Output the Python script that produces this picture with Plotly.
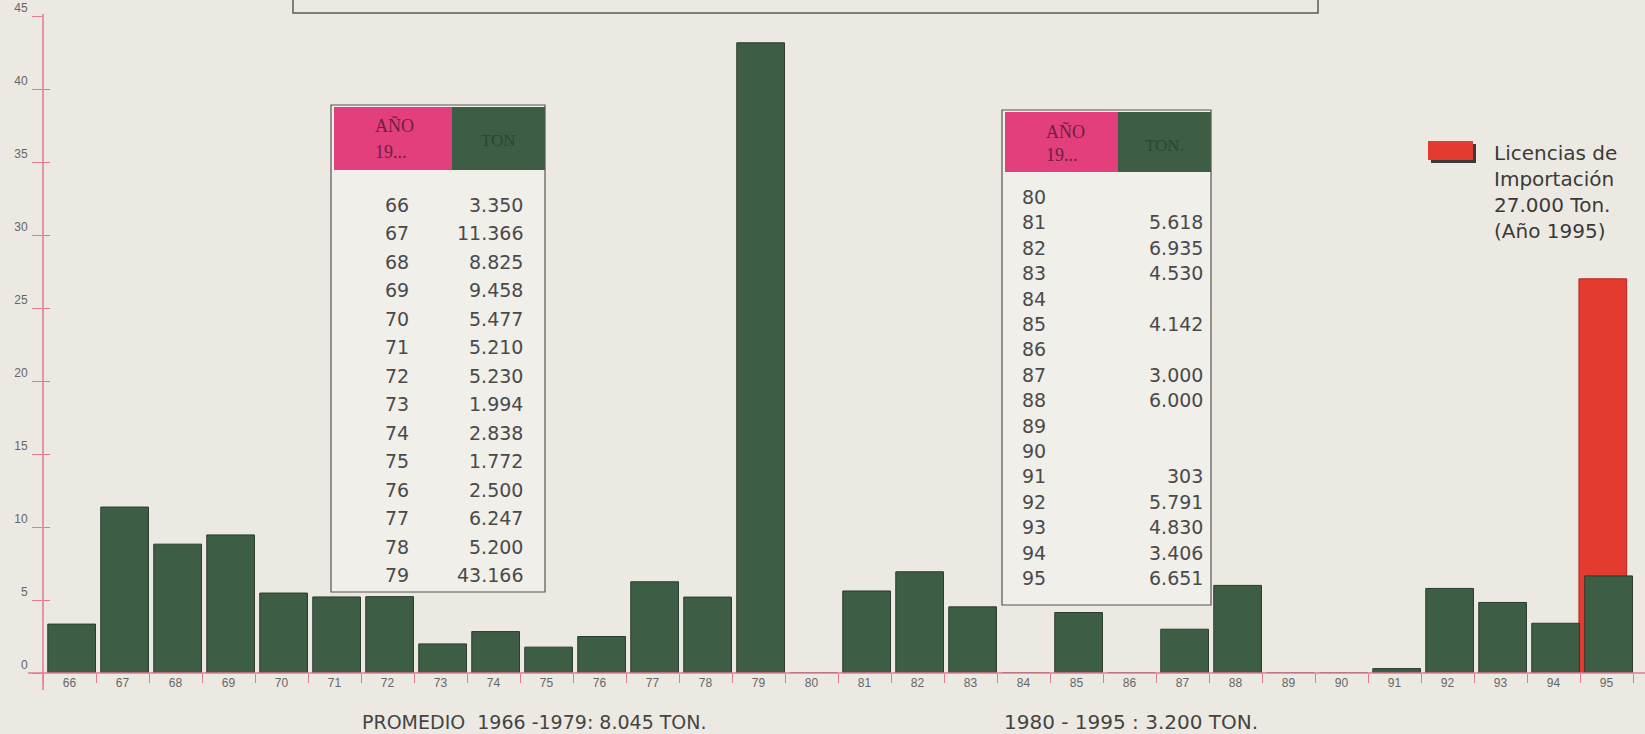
import plotly.graph_objects as go

# años 1966-1995 y toneladas (None = sin dato)
years = [str(y) for y in range(66, 96)]
tons = [3350, 11366, 8825, 9458, 5477, 5210, 5230, 1994, 2838, 1772, 2500, 6247, 5200, 43166,
        None, 5618, 6935, 4530, None, 4142, None, 3000, 6000, None, None, 303, 5791, 4830, 3406, 6651]
licencias_year = ["95"]
licencias_tons = [27000]
y_ticks = list(range(0, 50, 5))

bg = "#ece9e2"
green = "#3e5d45"
pink = "#e27a95"

W, H = 1645, 734
L, R, T, B = 43, 12, 16, 61


def px(x):
    return (x - L) / (W - L - R)


def py(y):
    return (H - B - y) / (H - T - B)


def fmt(v):
    return "" if v is None else f"{v:,}".replace(",", ".")


def note(x, y, text, anchor="left", **font):
    annotations.append(dict(x=px(x), y=py(y), xref="paper", yref="paper", text=text,
                            showarrow=False, xanchor=anchor, yanchor="middle",
                            align=anchor if anchor != "center" else "center",
                            font=font))


fig = go.Figure()

fig.add_trace(go.Bar(x=licencias_year, y=[v / 1000 for v in licencias_tons],
                     width=0.9, offset=-0.52, marker_color="#e53a2f",
                     marker_line=dict(color="#b22a22", width=1), showlegend=False))
fig.add_trace(go.Bar(x=years, y=[(v or 0) / 1000 for v in tons],
                     width=0.9, offset=-0.41, marker_color=green,
                     marker_line=dict(color="#2a3c2e", width=1), showlegend=False))
# eje secundario solo para las marcas interiores del eje y
fig.add_trace(go.Scatter(x=[], y=[], yaxis="y2", showlegend=False))

shapes = []
annotations = []

# ejes dibujados a mano para que se prolonguen como en el original
shapes.append(dict(type="line", xref="paper", yref="paper", x0=px(43), x1=px(43),
                   y0=py(14), y1=py(690), line=dict(color=pink, width=1.5)))
shapes.append(dict(type="line", xref="paper", yref="paper", x0=px(28), x1=px(1645),
                   y0=py(673), y1=py(673), line=dict(color=pink, width=1.5)))

# recuadro superior cortado
shapes.append(dict(type="rect", xref="paper", yref="paper", x0=px(293), x1=px(1318),
                   y0=py(-20), y1=py(13), line=dict(color="#5a5a5a", width=1.5)))


def table(x0, x1, xm, y_top, y_hdr, y_bot, rows, ys, year_x, year_anchor, ton_x, hdr):
    shapes.append(dict(type="rect", xref="paper", yref="paper", x0=px(x0), x1=px(x1),
                       y0=py(y_bot), y1=py(y_top), fillcolor="#f1efea",
                       line=dict(color="#555555", width=1.2), layer="above"))
    shapes.append(dict(type="rect", xref="paper", yref="paper", x0=px(x0 + 3), x1=px(xm),
                       y0=py(y_hdr), y1=py(y_top + 2), fillcolor="#e33f7d",
                       line_width=0, layer="above"))
    shapes.append(dict(type="rect", xref="paper", yref="paper", x0=px(xm), x1=px(x1),
                       y0=py(y_hdr), y1=py(y_top + 2), fillcolor=green,
                       line_width=0, layer="above"))
    hx = x0 + 42
    serif = dict(family="Liberation Serif", size=18, color="#6e1f3c")
    note(hx, hdr[0], "AÑO", **serif)
    note(hx, hdr[1], "19...", **serif)
    note((xm + x1) / 2, hdr[2], hdr[3], "center",
         family="Liberation Serif", size=17, color="#2c4733")
    body = dict(family="DejaVu Sans", size=19, color="#4a4a4a")
    for (yr, v), yy in zip(rows, ys):
        note(year_x, yy, yr, year_anchor, **body)
        if v is not None:
            note(ton_x, yy, fmt(v), "right", **body)


rows1 = list(zip(years[:14], tons[:14]))
rows2 = list(zip(years[14:], tons[14:]))
ys1 = [205 + i * (575 - 205) / 13 for i in range(14)]
ys2 = [197 + i * (578 - 197) / 15 for i in range(16)]
table(331, 545, 452, 105, 170, 592, rows1, ys1, 397, "center", 525, (125, 152, 140, "TON"))
table(1002, 1211, 1118, 110, 172, 605, rows2, ys2, 1020, "left", 1205, (131, 155, 145, "TON."))

# leyenda de licencias
shapes.append(dict(type="rect", xref="paper", yref="paper", x0=px(1431), x1=px(1476),
                   y0=py(163), y1=py(144), fillcolor="#3a3a3a", line_width=0))
shapes.append(dict(type="rect", xref="paper", yref="paper", x0=px(1428), x1=px(1473),
                   y0=py(160), y1=py(141), fillcolor="#e53a2f", line_width=0))
note(1492, 192, "Licencias de<br>Importación<br>27.000 Ton.<br>(Año 1995)",
     family="DejaVu Sans", size=20, color="#3a3a3a")

# promedios
note(360, 722, "PROMEDIO  1966 -1979: 8.045 TON.", family="DejaVu Sans", size=19, color="#444444")
note(1002, 722, "1980 - 1995 : 3.200 TON.", family="DejaVu Sans", size=20, color="#444444")

fig.update_layout(
    width=W, height=H,
    margin=dict(l=L, r=R, t=T, b=B, autoexpand=False),
    paper_bgcolor=bg, plot_bgcolor=bg,
    barmode="overlay",
    shapes=shapes, annotations=annotations,
    xaxis=dict(type="category", categoryorder="array", categoryarray=years,
               tickson="boundaries", ticks="outside", ticklen=9, tickwidth=1.3,
               tickcolor=pink, showline=False, showgrid=False, zeroline=False,
               automargin=False,
               tickfont=dict(family="Liberation Sans", size=12, color="#666666"),
               ticklabelstandoff=1),
    yaxis=dict(range=[0, 45], tickvals=y_ticks, ticks="outside", ticklen=10,
               tickwidth=1.3, tickcolor=pink, showline=False, showgrid=False,
               zeroline=False, ticklabelshift=-8, ticklabelstandoff=2, automargin=False,
               ticklabeloverflow="allow",
               tickfont=dict(family="Liberation Sans", size=12, color="#666666")),
    yaxis2=dict(range=[0, 45], tickvals=y_ticks, overlaying="y", side="left",
                ticks="inside", ticklen=7, tickwidth=1.3, tickcolor=pink, automargin=False,
                showticklabels=False, showline=False, showgrid=False, zeroline=False),
)

fig.write_html("out.html", config={"displayModeBar": False},
               post_script="document.body.style.margin = '0';")
